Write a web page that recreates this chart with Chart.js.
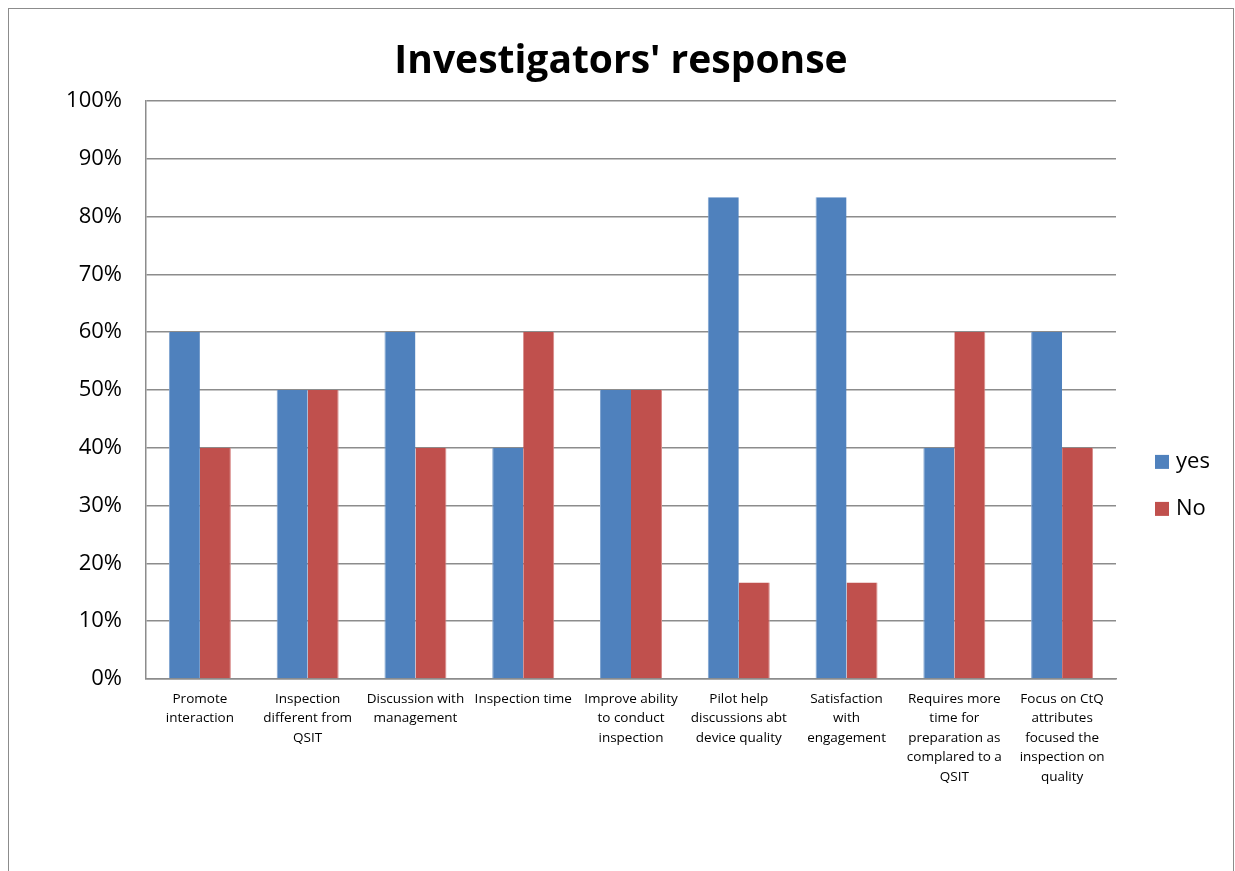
<!DOCTYPE html>
<html>
<head>
<meta charset="utf-8">
<script src="https://cdn.jsdelivr.net/npm/chart.js@4"></script>
<style>
  html, body { margin: 0; padding: 0; background: #fff; overflow: hidden; }
  #marco { position: absolute; left: 8px; top: 8px; width: 1224px; height: 900px; border: 1px solid #8c8c8c; }
  #grafico { display: block; }
</style>
</head>
<body>
<div id="marco"><canvas id="grafico" width="1224" height="862"></canvas></div>
<script>
const categorias = [
  ['Promote', 'interaction'],
  ['Inspection', 'different from', 'QSIT'],
  ['Discussion with', 'management'],
  ['Inspection time'],
  ['Improve ability', 'to conduct', 'inspection'],
  ['Pilot help', 'discussions abt', 'device quality'],
  ['Satisfaction', 'with', 'engagement'],
  ['Requires more', 'time for', 'preparation as', 'complared to a', 'QSIT'],
  ['Focus on CtQ', 'attributes', 'focused the', 'inspection on', 'quality']
];
const valoresYes = [60, 50, 60, 40, 50, 83.33, 83.33, 40, 60];
const valoresNo = [40, 50, 40, 60, 50, 16.67, 16.67, 60, 40];
const ticksY = [0, 10, 20, 30, 40, 50, 60, 70, 80, 90, 100];

const fuente = "'Open Sans', 'Noto Sans', sans-serif";
const gris = '#8c8c8c';

// leyenda a mano, al estilo Excel
const leyendaExcel = {
  id: 'leyendaExcel',
  afterDraw(chart) {
    const ctx = chart.ctx;
    const area = chart.chartArea;
    const x = area.right + 39;
    let y = (area.top + area.bottom) / 2 + 72;
    ctx.save();
    ctx.font = '22px ' + fuente;
    ctx.textBaseline = 'middle';
    chart.data.datasets.forEach(ds => {
      ctx.fillStyle = ds.backgroundColor;
      ctx.fillRect(x, y - 7, 14, 14);
      ctx.fillStyle = '#000';
      ctx.fillText(ds.label, x + 21, y);
      y += 47;
    });
    ctx.restore();
  }
};

const divGrafico = document.getElementById('grafico');
const myChart = new Chart(divGrafico, {
  type: 'bar',
  data: {
    labels: categorias,
    datasets: [
      { label: 'yes', data: valoresYes, backgroundColor: '#4F81BD', borderColor: '#7fa3d0', borderWidth: { left: 1, right: 0, top: 0, bottom: 0 } },
      { label: 'No', data: valoresNo, backgroundColor: '#C0504D', borderColor: '#d88a88', borderWidth: { left: 0, right: 1, top: 0, bottom: 0 } }
    ]
  },
  options: {
    responsive: false,
    animation: false,
    layout: { padding: 0 },
    datasets: { bar: { barPercentage: 1, categoryPercentage: 0.575 } },
    plugins: {
      legend: { display: false },
      tooltip: { enabled: false },
      title: {
        display: true,
        text: "Investigators' response",
        color: '#000',
        font: { family: fuente, size: 39, weight: 'bold' },
        padding: { top: 29, bottom: 16 }
      }
    },
    scales: {
      x: {
        grid: { display: false, drawTicks: false },
        border: { color: gris, width: 1.5 },
        ticks: {
          color: '#000',
          font: { family: fuente, size: 13.5, lineHeight: 1.45 },
          maxRotation: 0,
          autoSkip: false,
          padding: 10
        },
        afterFit: s => { s.height = 192; }
      },
      y: {
        min: 0,
        max: 100,
        afterBuildTicks: s => { s.ticks = ticksY.map(v => ({ value: v })); },
        grid: { color: gris, lineWidth: 1.5, drawTicks: false },
        border: { color: gris, width: 1.5 },
        ticks: {
          color: '#000',
          font: { family: fuente, size: 22 },
          padding: 24,
          callback: v => v + '%'
        },
        afterFit: s => { s.width = 137; }
      },
      // eje vacío a la derecha para dejar sitio a la leyenda
      espacio: {
        type: 'linear',
        position: 'right',
        display: true,
        grid: { display: false, drawTicks: false },
        border: { display: false },
        ticks: { display: false },
        afterFit: s => { s.width = 117; }
      }
    }
  },
  plugins: [leyendaExcel]
});
</script>
</body>
</html>
